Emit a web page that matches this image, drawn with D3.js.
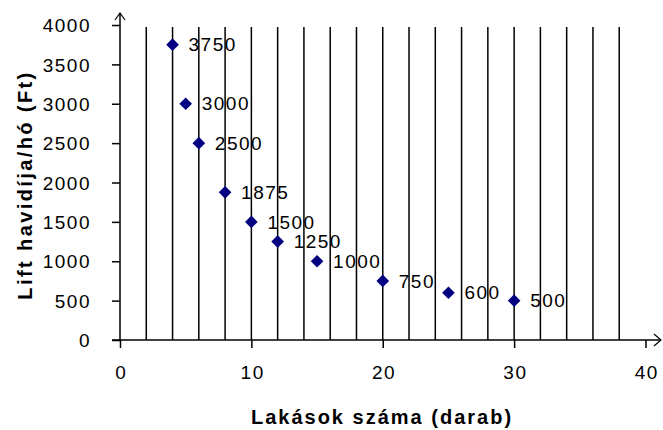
<!DOCTYPE html>
<html>
<head>
<meta charset="utf-8">
<script src="https://cdn.jsdelivr.net/npm/d3@7"></script>
<style>
  body { margin: 0; background: #fff; }
  text { font-family: Arial, "Liberation Sans", sans-serif; fill: #000; }
</style>
</head>
<body>
<svg id="chart" width="663" height="430"></svg>
<script>
// lakások száma vs. havi liftdíj
var flats = [4, 5, 6, 8, 10, 12, 15, 20, 25, 30];
var fees = [3750, 3000, 2500, 1875, 1500, 1250, 1000, 750, 600, 500];
var xTicks = [0, 10, 20, 30, 40];
var yTicks = [0, 500, 1000, 1500, 2000, 2500, 3000, 3500, 4000];
var gridX = d3.range(2, 40, 2);

var svg = d3.select("#chart");

var x = d3.scaleLinear().domain([0, 40]).range([120, 645.5]);
var y = d3.scaleLinear().domain([0, 4000]).range([340, 25]);

// vertical gridlines
svg.append("g")
  .selectAll("line")
  .data(gridX)
  .join("line")
  .attr("x1", d => x(d)).attr("x2", d => x(d))
  .attr("y1", y(4000) + 2).attr("y2", y(0))
  .attr("stroke", "#000").attr("stroke-width", 1.5);

// y axis
var yAxis = svg.append("g")
  .attr("transform", "translate(" + x(0) + ",0)")
  .call(d3.axisLeft(y).tickValues(yTicks).tickSize(8).tickPadding(21).tickFormat(d3.format("d")));
yAxis.select(".domain").remove();
yAxis.selectAll("line").attr("stroke", "#000").attr("stroke-width", 1.5);
yAxis.selectAll("text").style("font-size", "19px").attr("dy", "0.35em").attr("letter-spacing", "1.5px");

// x axis
var xAxis = svg.append("g")
  .attr("transform", "translate(0," + y(0) + ")")
  .call(d3.axisBottom(x).tickValues(xTicks).tickSize(8).tickPadding(18).tickFormat(d3.format("d")));
xAxis.select(".domain").remove();
xAxis.selectAll("line").attr("stroke", "#000").attr("stroke-width", 1.5);
xAxis.selectAll("text").style("font-size", "19px").attr("letter-spacing", "1.5px").attr("dx", "0.75px");

// axis lines with open arrows
svg.append("line")
  .attr("x1", x(0)).attr("x2", x(0)).attr("y1", y(0)).attr("y2", 13)
  .attr("stroke", "#000").attr("stroke-width", 1.5);
svg.append("path")
  .attr("d", "M" + (x(0) - 5) + ",20 L" + x(0) + ",13 L" + (x(0) + 5) + ",20")
  .attr("fill", "none").attr("stroke", "#000").attr("stroke-width", 1.2);
svg.append("line")
  .attr("x1", x(0) - 8).attr("x2", 661).attr("y1", y(0)).attr("y2", y(0))
  .attr("stroke", "#000").attr("stroke-width", 1.5);
svg.append("path")
  .attr("d", "M654," + (y(0) - 6) + " L661," + y(0) + " L654," + (y(0) + 6))
  .attr("fill", "none").attr("stroke", "#000").attr("stroke-width", 1.2);

// points
svg.append("g")
  .selectAll("path")
  .data(flats)
  .join("path")
  .attr("d", d3.symbol().type(d3.symbolSquare).size(80))
  .attr("transform", (d, i) => "translate(" + x(d) + "," + y(fees[i]) + ") rotate(45)")
  .attr("fill", "#000080");

// data labels
svg.append("g")
  .selectAll("text")
  .data(flats)
  .join("text")
  .attr("x", d => x(d) + 16)
  .attr("y", (d, i) => y(fees[i]))
  .attr("dy", "0.35em")
  .attr("letter-spacing", "1.5px")
  .style("font-size", "19px")
  .text((d, i) => fees[i]);

// axis titles
svg.append("text")
  .attr("x", 382).attr("y", 424)
  .attr("text-anchor", "middle")
  .attr("letter-spacing", "2px")
  .style("font-size", "20px").style("font-weight", "bold")
  .text("Lakások száma (darab)");

svg.append("text")
  .attr("transform", "translate(32,185) rotate(-90)")
  .attr("text-anchor", "middle")
  .attr("letter-spacing", "2.4px")
  .style("font-size", "20px").style("font-weight", "bold")
  .text("Lift havidíja/hó (Ft)");
</script>
</body>
</html>
